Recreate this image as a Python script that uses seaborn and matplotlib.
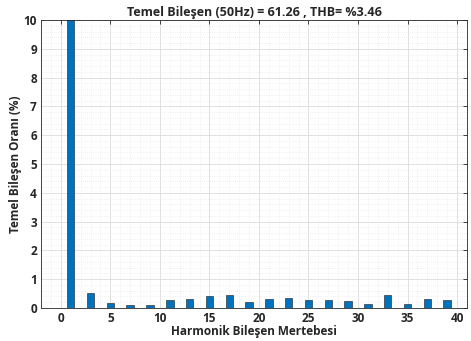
import matplotlib
matplotlib.use("Agg")
import matplotlib.pyplot as plt
import seaborn as sns
import numpy as np
import pandas as pd
from matplotlib.ticker import MultipleLocator

harmonics = list(range(1, 41))
odd_values = {1: 100.0, 3: 0.52, 5: 0.17, 7: 0.11, 9: 0.09, 11: 0.27, 13: 0.30,
              15: 0.42, 17: 0.44, 19: 0.22, 21: 0.32, 23: 0.36, 25: 0.28,
              27: 0.29, 29: 0.23, 31: 0.14, 33: 0.45, 35: 0.15, 37: 0.30, 39: 0.27}
even_value = 0.01
values = [odd_values.get(h, even_value) for h in harmonics]

title = "Temel Bileşen (50Hz) = 61.26 , THB= %3.46"
xlabel = "Harmonik Bileşen Mertebesi"
ylabel = "Temel Bileşen Oranı (%)"

sns.set_style("white")
plt.rcParams['font.family'] = ['Open Sans', 'DejaVu Sans']

fig = plt.figure(figsize=(4.71, 3.41), dpi=100)
ax = fig.add_axes([41/471, 1 - 308/341, (467-41)/471, (308-20)/341])

df = pd.DataFrame({"h": harmonics, "v": values})
sns.barplot(data=df, x="h", y="v", native_scale=True, width=0.75,
            color="#0072BD", saturation=1, edgecolor="#1a1a1a", linewidth=0.4, ax=ax)

ax.set_xlim(-2, 41)
ax.set_ylim(0, 10)
ax.xaxis.set_major_locator(MultipleLocator(5))
ax.xaxis.set_minor_locator(MultipleLocator(1))
ax.yaxis.set_major_locator(MultipleLocator(1))
ax.yaxis.set_minor_locator(MultipleLocator(0.2))
ax.set_axisbelow(True)
ax.grid(which="major", color="#dcdcdc", linewidth=0.6)
ax.grid(which="minor", color="#e3e3e3", linewidth=0.5, linestyle=(0, (1, 2)))
for s in ax.spines.values():
    s.set_color("#262626")
    s.set_linewidth(0.6)
ax.tick_params(which="major", direction="in", length=3, width=0.6, color="#262626",
               top=True, right=True, labelsize=8.5, pad=3)
ax.tick_params(which="minor", length=0)
for lab in ax.get_xticklabels() + ax.get_yticklabels():
    lab.set_fontweight("bold")
ax.set_title(title, fontsize=9, fontweight="bold", pad=3)
ax.set_xlabel(xlabel, fontsize=8.5, fontweight="bold", labelpad=0)
ax.set_ylabel(ylabel, fontsize=8.5, fontweight="bold", labelpad=1)

fig.savefig("out.png", dpi=100)
